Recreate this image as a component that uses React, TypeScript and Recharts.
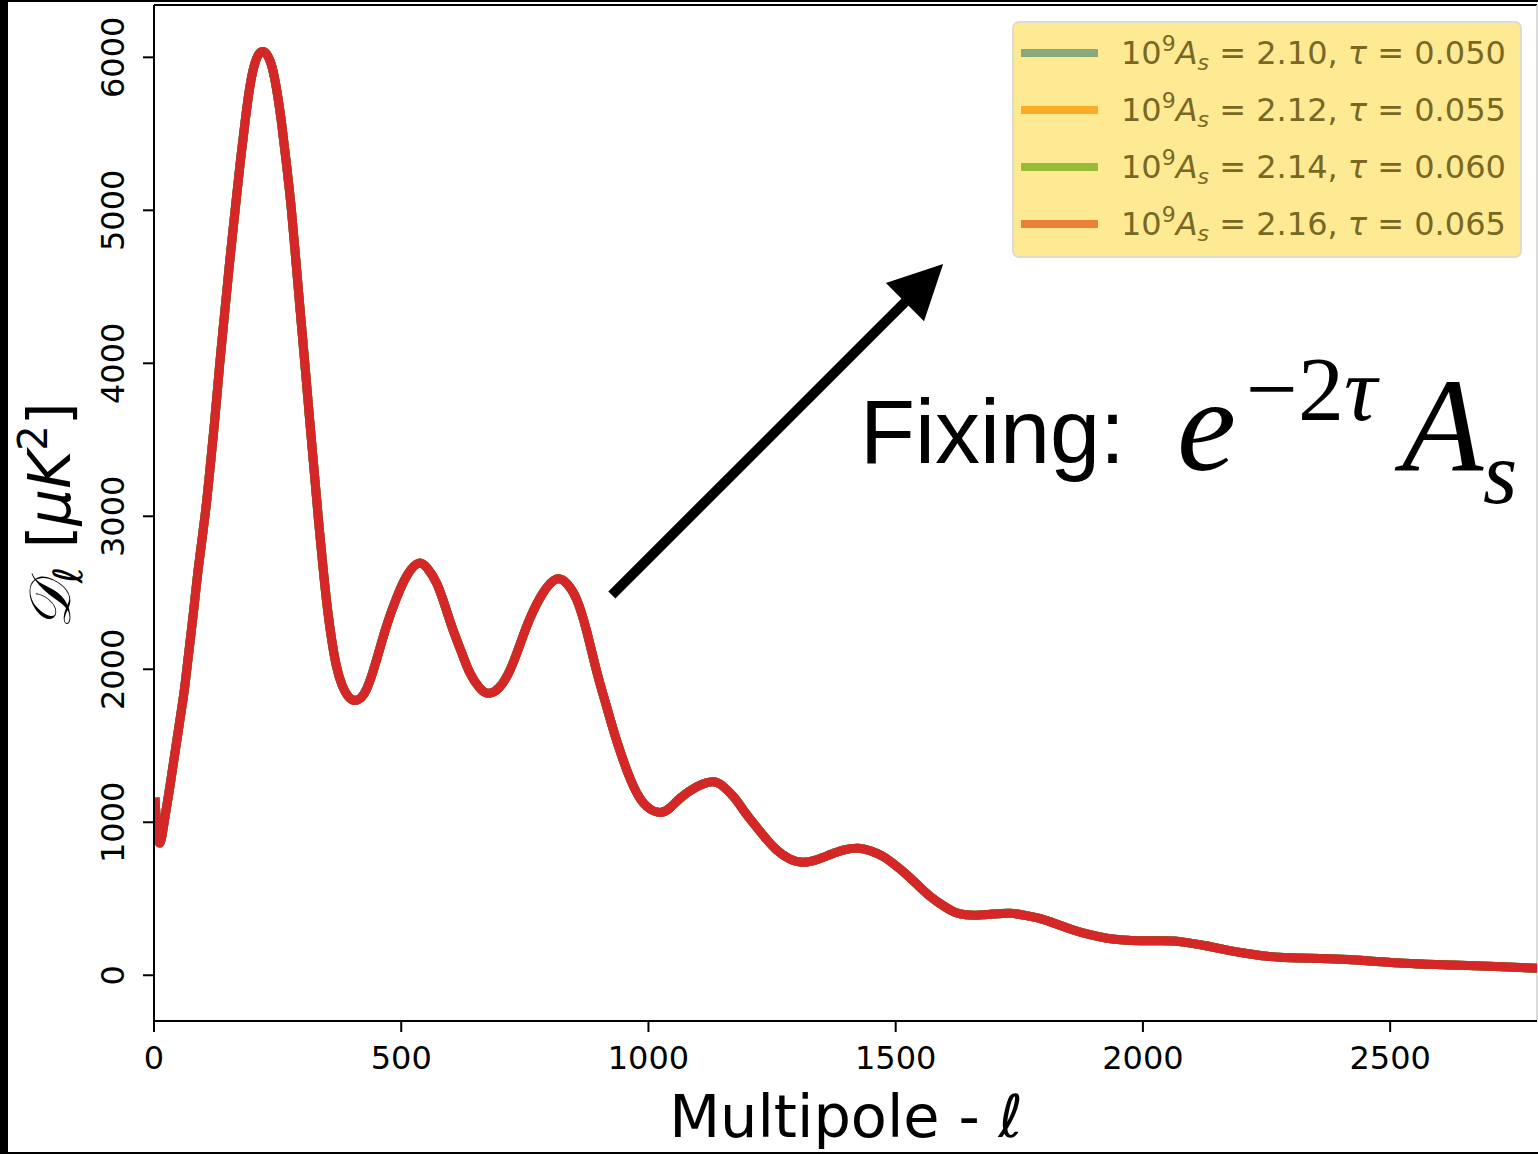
import React from 'react';
import { LineChart, Line, XAxis, YAxis, ReferenceLine } from 'recharts';

// Multipole moments and the TT band power D_ell (muK^2) shared by the four runs
const multipoles = [
  2, 6, 12, 20, 32, 45, 59, 66, 80, 90, 103, 112, 122, 133, 142, 152, 164, 175, 185, 195,
  205, 213, 220, 228, 238, 248, 258, 268, 278, 287, 296, 305, 314, 323, 332, 342, 351, 360,
  369, 380, 395, 412, 430, 450, 470, 491, 513, 535, 553, 572, 589, 605, 622, 639, 658, 676,
  698, 720, 740, 760, 787, 814, 835, 855, 875, 895, 915, 936, 963, 990, 1020, 1042, 1064,
  1097, 1130, 1151, 1172, 1192, 1212, 1236, 1259, 1286, 1313, 1340, 1367, 1396, 1425, 1450,
  1475, 1498, 1522, 1546, 1570, 1596, 1621, 1642, 1663, 1697, 1731, 1761, 1791, 1825, 1859,
  1893, 1927, 1961, 1995, 2029, 2062, 2096, 2130, 2168, 2207, 2241, 2275, 2338, 2402, 2465,
  2529, 2593, 2657, 2727, 2797,
];
const bandPower = [
  1160, 960, 865, 990, 1230, 1510, 1810, 1990, 2380, 2670, 3000, 3270, 3600, 4000, 4300,
  4630, 5000, 5330, 5600, 5830, 5970, 6025, 6038, 6020, 5945, 5790, 5570, 5300, 5000, 4670,
  4330, 4000, 3660, 3330, 3000, 2660, 2390, 2180, 2020, 1900, 1815, 1800, 1870, 2060, 2280,
  2470, 2620, 2693, 2660, 2560, 2410, 2255, 2110, 1975, 1880, 1843, 1880, 1995, 2160, 2330,
  2500, 2590, 2560, 2455, 2250, 1990, 1760, 1530, 1285, 1125, 1065, 1090, 1157, 1230, 1265,
  1235, 1167, 1080, 995, 900, 820, 760, 738, 755, 788, 820, 830, 812, 775, 722, 658, 585,
  515, 455, 410, 395, 393, 400, 405, 392, 372, 335, 296, 265, 242, 230, 226, 226, 224, 210,
  191, 166, 144, 128, 118, 111, 104, 92, 78, 70, 64, 56, 46,
];

const amplitudes = ['2.10', '2.12', '2.14', '2.16'];
const opticalDepths = ['0.050', '0.055', '0.060', '0.065'];
const lineColors = ['#1f77b4', '#ff7f0e', '#2ca02c', '#d62728'];
const legendSwatches = ['#8aa87b', '#fdac27', '#97bd36', '#ea8036'];

const xTicks = [0, 500, 1000, 1500, 2000, 2500];
const yTicks = [0, 1000, 2000, 3000, 4000, 5000, 6000];
const xDomain = [0, 2797];
const yDomain = [-299, 6342];

// arrow tail and head in data coordinates
const arrowTail = { x: 926, y: 2486 };
const arrowHead = { x: 1596, y: 4649 };

const spectrum = multipoles.map((ell, i) => ({ ell, dl: bandPower[i] }));

const FONT = '"DejaVu Sans", sans-serif';

const XTick = ({ x, y, payload }: any) => (
  <text x={x} y={y} textAnchor="middle" fontSize={32} fontFamily={FONT} fill="#000">
    {payload.value}
  </text>
);

const YTick = ({ x, y, payload }: any) => (
  <text
    x={x}
    y={y}
    transform={`rotate(-90 ${x} ${y})`}
    textAnchor="middle"
    fontSize={32}
    fontFamily={FONT}
    fill="#000"
  >
    {payload.value}
  </text>
);

const Arrow = (props: any) => {
  const { x1, y1, x2, y2 } = props;
  const dx = x2 - x1;
  const dy = y2 - y1;
  const len = Math.hypot(dx, dy);
  const ux = dx / len;
  const uy = dy / len;
  const headLen = 54;
  const headHalf = 27;
  const bx = x2 - ux * headLen;
  const by = y2 - uy * headLen;
  const px = -uy;
  const py = ux;
  return (
    <g>
      <line x1={x1} y1={y1} x2={bx + ux * 3} y2={by + uy * 3} stroke="#000" strokeWidth={10} />
      <polygon
        points={`${x2},${y2} ${bx + px * headHalf},${by + py * headHalf} ${bx - px * headHalf},${by - py * headHalf}`}
        fill="#000"
      />
    </g>
  );
};

const rowY = [53, 110, 167, 224];

export default function App() {
  return (
    <div style={{ position: 'absolute', left: 0, top: 0, width: 1538, height: 1154, background: '#fff', overflow: 'hidden' }}>
      <LineChart
        width={1538}
        height={1154}
        data={spectrum}
        margin={{ top: 5, right: 1, left: 0, bottom: 0 }}
      >
        <XAxis
          dataKey="ell"
          type="number"
          domain={xDomain}
          ticks={xTicks}
          allowDataOverflow
          height={133}
          tickSize={11}
          tickMargin={37}
          axisLine={{ stroke: '#000', strokeWidth: 2 }}
          tickLine={{ stroke: '#000', strokeWidth: 2 }}
          tick={<XTick />}
        />
        <YAxis
          type="number"
          domain={yDomain}
          ticks={yTicks}
          allowDataOverflow
          width={154}
          tickSize={11}
          tickMargin={19}
          axisLine={{ stroke: '#000', strokeWidth: 2 }}
          tickLine={{ stroke: '#000', strokeWidth: 2 }}
          tick={<YTick />}
        />
        <ReferenceLine y={yDomain[1]} stroke="#000" strokeWidth={2} />
        <ReferenceLine x={xDomain[1]} stroke="#cfcfcf" strokeWidth={1.5} />
        {lineColors.map((c) => (
          <Line
            key={c}
            dataKey="dl"
            type="natural"
            stroke={c}
            strokeWidth={9}
            dot={false}
            activeDot={false}
            isAnimationActive={false}
          />
        ))}
        <ReferenceLine segment={[arrowTail, arrowHead]} shape={<Arrow />} />
      </LineChart>

      <svg
        width={1538}
        height={1154}
        style={{ position: 'absolute', left: 0, top: 0, pointerEvents: 'none' }}
      >
        {/* frame edges */}
        <rect x={0} y={0} width={8} height={1154} fill="#000" />
        <rect x={0} y={0} width={1538} height={2} fill="#000" />
        <rect x={0} y={1152} width={1538} height={2} fill="#000" />

        {/* axis titles */}
        <text x={846} y={1137} textAnchor="middle" fontSize={59} fontFamily={FONT} fill="#000">
          Multipole - <tspan fontStyle="italic">ℓ</tspan>
        </text>
        <text
          x={70}
          y={516}
          transform="rotate(-90 70 516)"
          textAnchor="middle"
          fontSize={58}
          fontFamily={FONT}
          fill="#000"
          style={{ whiteSpace: 'pre' }}
        >
          <tspan fontStyle="italic">𝒟</tspan>
          <tspan fontSize={40} fontStyle="italic" dy={12}>ℓ</tspan>
          <tspan dy={-12}> [</tspan>
          <tspan fontStyle="italic">μK</tspan>
          <tspan fontSize={40} dy={-23}>2</tspan>
          <tspan dy={23}>]</tspan>
        </text>

        {/* annotation */}
        <text x={860} y={463} fontSize={90} fontFamily='"Liberation Sans", Arial, sans-serif' fill="#000">
          Fixing:
        </text>
        <g fontFamily='"Liberation Serif", "Times New Roman", serif' fill="#000">
          <text x={1177} y={470} fontSize={133} fontStyle="italic">e</text>
          <text x={1246} y={420} fontSize={92}>
            −2<tspan fontStyle="italic">τ</tspan>
          </text>
          <text x={1402} y={470} fontSize={133} fontStyle="italic">A</text>
          <text x={1483} y={503} fontSize={88} fontStyle="italic">s</text>
        </g>

        {/* legend */}
        <rect x={1013} y={22} width={508} height={235} rx={6} fill="#feea93" stroke="#dcdcd0" strokeWidth={2} />
        {amplitudes.map((a, i) => (
          <g key={a}>
            <line x1={1021} x2={1098} y1={rowY[i]} y2={rowY[i]} stroke={legendSwatches[i]} strokeWidth={8} />
            <text
              x={1121}
              y={rowY[i] + 11}
              fontSize={32}
              fontFamily={FONT}
              fill="#786824"
              style={{ whiteSpace: 'pre' }}
            >
              <tspan>10</tspan>
              <tspan fontSize={22} dy={-13}>9</tspan>
              <tspan fontStyle="italic" dy={13}>A</tspan>
              <tspan fontSize={22} fontStyle="italic" dy={6}>s</tspan>
              <tspan dy={-6}>{` = ${a}, `}</tspan>
              <tspan fontStyle="italic">τ</tspan>
              <tspan>{` = ${opticalDepths[i]}`}</tspan>
            </text>
          </g>
        ))}
      </svg>
    </div>
  );
}
